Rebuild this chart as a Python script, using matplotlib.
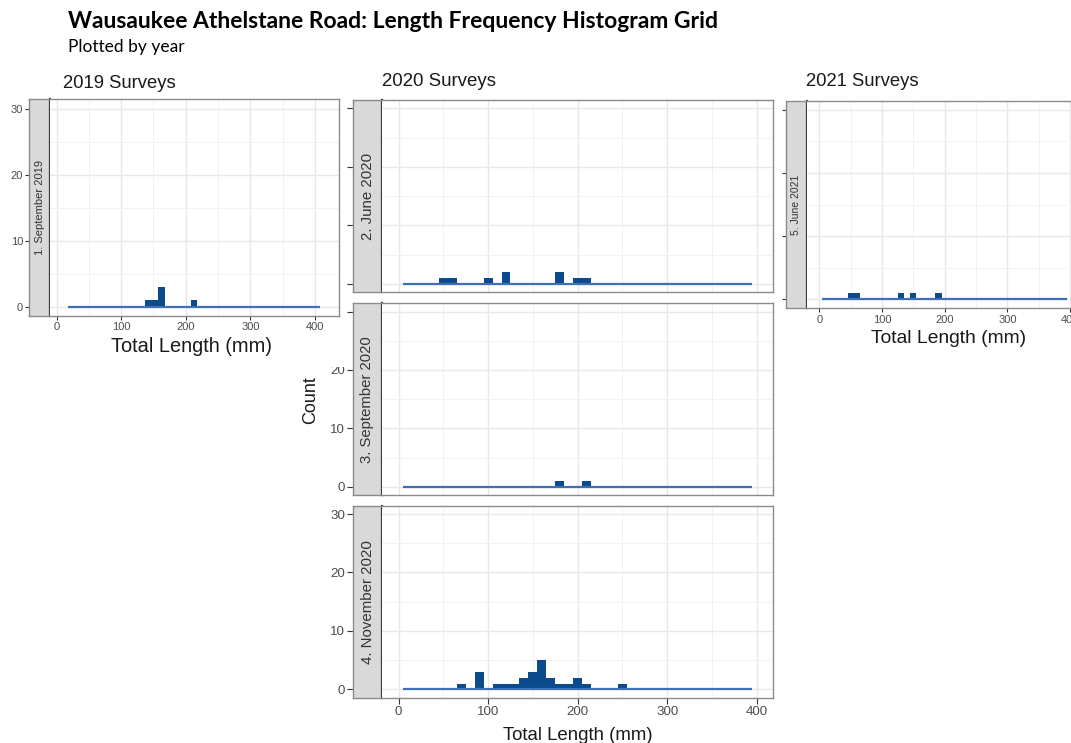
import numpy as np
import matplotlib
matplotlib.use('Agg')
import matplotlib.pyplot as plt

# non-empty 10 mm length bins (bin centre, count) for each survey
sep19_mid = [142.5, 152.5, 162.5, 212.5]
sep19_n = [1, 1, 3, 1]
jun20_mid = [50, 60, 100, 120, 180, 200, 210]
jun20_n = [1, 1, 1, 2, 2, 1, 1]
sep20_mid = [180, 210]
sep20_n = [1, 1]
nov20_mid = [70, 90, 110, 120, 130, 140, 150, 160, 170, 180, 190, 200, 210, 250]
nov20_n = [1, 3, 1, 1, 1, 2, 3, 5, 2, 1, 1, 2, 1, 1]
jun21_mid = [50, 60, 130, 150, 190]
jun21_n = [1, 1, 1, 1, 1]

# span of the histogram bins (empty bins show as flat line)
range19 = (17.5, 407.5)
range20 = (5, 395)

y_ticks = [0, 10, 20, 30]
x_ticks = [0, 100, 200, 300, 400]

BAR = '#0b4a8c'
LINE = '#3f6fb4'
TICK = '#4d4d4d'
FONT = 'Liberation Sans'

W, H = 1071, 743
fig = plt.figure(figsize=(W / 100, H / 100), dpi=100)


def box(x0, y0, x1, y1):
    # pixel box (top-left origin) -> figure fraction
    return [x0 / W, 1 - y1 / H, (x1 - x0) / W, (y1 - y0) / H]


def panel(sx, x0, x1, y0, y1, xlim, mids, counts, rng, label,
          strip_fs, tick_fs, tick_len, ylabels=True, xlabels=True):
    ylim = (-1.42, 31.42)
    # strip on the left, carries the y axis
    sax = fig.add_axes(box(sx, y0, x0, y1))
    sax.set_facecolor('#d9d9d9')
    sax.set_xlim(0, 1)
    sax.set_ylim(*ylim)
    sax.set_xticks([])
    sax.set_yticks(y_ticks)
    sax.tick_params(axis='y', length=tick_len, width=0.8, color='#333333',
                    labelsize=tick_fs, labelcolor=TICK, pad=1.5,
                    labelleft=ylabels)
    for t in sax.get_yticklabels():
        t.set_fontfamily(FONT)
    for s in sax.spines.values():
        s.set_color('#8a8a8a')
        s.set_linewidth(1.0)
    sax.spines['right'].set_color('#3a3a3a')
    sax.spines['right'].set_linewidth(1.6)
    sax.text(0.5, 0.5, label, rotation=90, ha='center', va='center',
             transform=sax.transAxes, fontsize=strip_fs, color='#333333',
             family=FONT)

    ax = fig.add_axes(box(x0, y0, x1, y1))
    ax.set_xlim(*xlim)
    ax.set_ylim(*ylim)
    ax.set_xticks(x_ticks)
    ax.set_xticks([50, 150, 250, 350], minor=True)
    ax.set_yticks(y_ticks)
    ax.set_yticks([5, 15, 25], minor=True)
    ax.grid(which='major', color='#e8e8e8', lw=1.0)
    ax.grid(which='minor', color='#f2f2f2', lw=0.7)
    ax.set_axisbelow(True)
    ax.tick_params(axis='y', which='both', left=False, labelleft=False)
    ax.tick_params(axis='x', which='minor', bottom=False)
    ax.tick_params(axis='x', which='major', length=tick_len, width=0.8,
                   color='#333333', labelsize=tick_fs, labelcolor=TICK,
                   pad=1.5, bottom=xlabels, labelbottom=xlabels)
    for t in ax.get_xticklabels():
        t.set_fontfamily(FONT)
    for s in ax.spines.values():
        s.set_color('#8a8a8a')
        s.set_linewidth(1.0)
    ax.spines['left'].set_visible(False)

    edges = np.arange(rng[0], rng[1] + 0.1, 10)
    full = np.zeros(len(edges) - 1)
    idx = np.round((np.array(mids) - rng[0] - 5) / 10).astype(int)
    full[idx] = counts
    ax.stairs(full, edges, fill=True, color=BAR, lw=0)
    ax.hlines(0, rng[0], rng[1], color=LINE, lw=1.6, zorder=3)
    return ax


# 2020 column
panel(353.3, 381.7, 772.7, 100, 292.3, (-18.8, 417.8), jun20_mid, jun20_n,
      range20, '2. June 2020', 10.8, 9.6, 4.5, ylabels=False, xlabels=False)
panel(353.3, 381.7, 772.7, 303.3, 495, (-18.8, 417.8), sep20_mid, sep20_n,
      range20, '3. September 2020', 10.7, 9.6, 4.5, xlabels=False)
panel(353.3, 381.7, 772.7, 505.7, 697.7, (-18.8, 417.8), nov20_mid, nov20_n,
      range20, '4. November 2020', 10.8, 9.6, 4.5)
fig.text(382 / W, 1 - 81 / H, '2020 Surveys', fontsize=13.4, family=FONT,
         va='center', ha='left', color='#1a1a1a')
fig.text(311 / W, 1 - 400 / H, 'Count', fontsize=13, family=FONT,
         rotation=90, va='center', ha='center', color='#1a1a1a')
fig.text(577.5 / W, 1 - 735 / H, 'Total Length (mm)', fontsize=13.4,
         family=FONT, va='center', ha='center', color='#1a1a1a')

# 2021 column (its right edge runs past the picture, as in the source)
panel(786, 806.7, 1082, 100.7, 308.3, (-20.1, 419), jun21_mid, jun21_n,
      range20, '5. June 2021', 7.5, 8, 3, ylabels=False)
fig.text(806 / W, 1 - 82 / H, '2021 Surveys', fontsize=13.3, family=FONT,
         va='center', ha='left', color='#1a1a1a')
fig.text(949 / W, 1 - 338 / H, 'Total Length (mm)', fontsize=13.9,
         family=FONT, va='center', ha='center', color='#1a1a1a')

# the 2019 plot sits on top of the 2020 one
cover = fig.add_axes(box(0, 55, 346, 367))
cover.set_xticks([])
cover.set_yticks([])
for s in cover.spines.values():
    s.set_visible(False)
cover.set_facecolor('white')

panel(29.3, 50, 339.3, 99.3, 316, (-10.1, 437.6), sep19_mid, sep19_n,
      range19, '1. September 2019', 8, 8, 3)
fig.text(62.7 / W, 1 - 84 / H, '2019 Surveys', fontsize=13.3, family=FONT,
         va='center', ha='left', color='#1a1a1a')
fig.text(191.7 / W, 1 - 347 / H, 'Total Length (mm)', fontsize=14.4,
         family=FONT, va='center', ha='center', color='#1a1a1a')

fig.text(68 / W, 1 - 22 / H,
         'Wausaukee Athelstane Road: Length Frequency Histogram Grid',
         fontsize=16.5, fontweight='bold', family='Lato', va='center',
         ha='left', color='black')
fig.text(68 / W, 1 - 47 / H, 'Plotted by year', fontsize=12.5, family='Lato',
         va='center', ha='left', color='black')

fig.savefig('out.png', dpi=100)
